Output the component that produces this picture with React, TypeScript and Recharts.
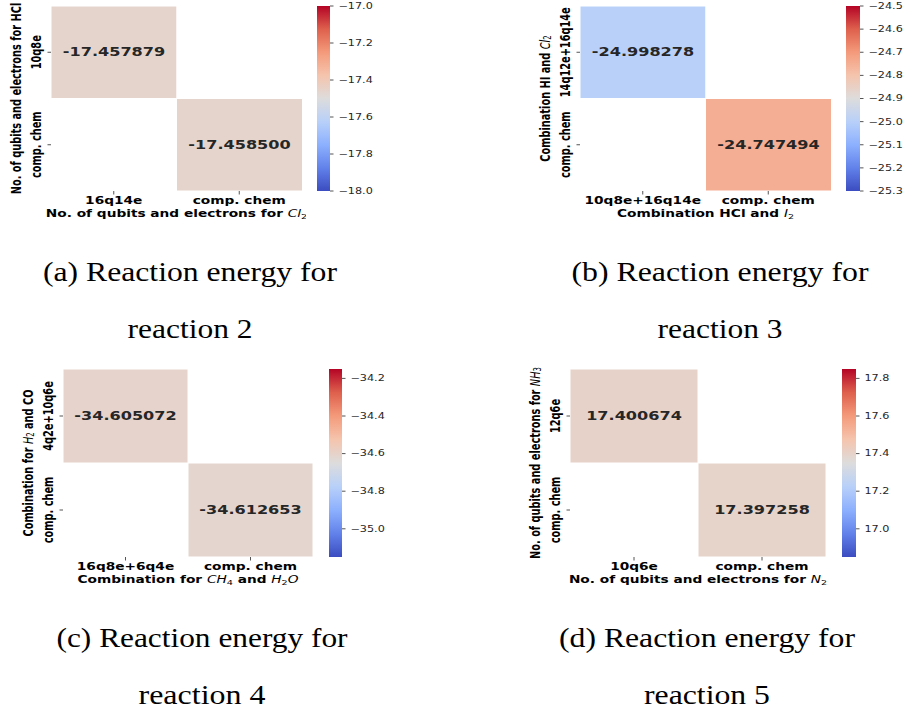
import React from 'react';
import { BarChart, Bar, XAxis, YAxis, Cell, LabelList } from 'recharts';

// reaction 2
const r2Cols = ['16q14e', 'comp. chem'];
const r2Rows = ['10q8e', 'comp. chem'];
const r2Energy = [
  [-17.457879, null],
  [null, -17.4585],
];
const r2Range = [-18.0, -17.0];
const r2Ticks = [-17.0, -17.2, -17.4, -17.6, -17.8, -18.0];

// reaction 3
const r3Cols = ['10q8e+16q14e', 'comp. chem'];
const r3Rows = ['14q12e+16q14e', 'comp. chem'];
const r3Energy = [
  [-24.998278, null],
  [null, -24.747494],
];
const r3Range = [-25.3, -24.5];
const r3Ticks = [-24.5, -24.6, -24.7, -24.8, -24.9, -25.0, -25.1, -25.2, -25.3];

// reaction 4
const r4Cols = ['16q8e+6q4e', 'comp. chem'];
const r4Rows = ['4q2e+10q6e', 'comp. chem'];
const r4Energy = [
  [-34.605072, null],
  [null, -34.612653],
];
const r4Range = [-35.15, -34.15];
const r4Ticks = [-34.2, -34.4, -34.6, -34.8, -35.0];

// reaction 5
const r5Cols = ['10q6e', 'comp. chem'];
const r5Rows = ['12q6e', 'comp. chem'];
const r5Energy = [
  [17.400674, null],
  [null, 17.397258],
];
const r5Range = [16.85, 17.85];
const r5Ticks = [17.8, 17.6, 17.4, 17.2, 17.0];

// the source figure is stretched sideways, so text is too
const SX = 1.4;
const FONT = 'DejaVu Sans';

// matplotlib "coolwarm"
const COOLWARM: [number, string][] = [
  [0, '#3b4cc0'],
  [0.125, '#6282ea'],
  [0.25, '#8db0fe'],
  [0.375, '#b8d0f9'],
  [0.5, '#dddcdc'],
  [0.625, '#f5c4ad'],
  [0.75, '#f49a7b'],
  [0.875, '#de604d'],
  [1, '#b40426'],
];

const hex = (c: string) => [1, 3, 5].map((i) => parseInt(c.slice(i, i + 2), 16));

const coolwarm = (t: number) => {
  t = Math.max(0, Math.min(1, t));
  for (let i = 1; i < COOLWARM.length; i++) {
    const [t1, c1] = COOLWARM[i];
    if (t <= t1) {
      const [t0, c0] = COOLWARM[i - 1];
      const f = (t - t0) / (t1 - t0);
      const a = hex(c0);
      const b = hex(c1);
      const rgb = a.map((v, k) => Math.round(v + (b[k] - v) * f));
      return `rgb(${rgb.join(',')})`;
    }
  }
  return COOLWARM[COOLWARM.length - 1][1];
};

// "$Cl_2$" style titles: plain part bold, math part italic with subscripts
const titleSpans = (title: string, size: number) => {
  const out: React.ReactNode[] = [];
  let shift = 0;
  let key = 0;
  title.split('$').forEach((part, i) => {
    if (!part) return;
    if (i % 2 === 0) {
      out.push(<tspan key={key++} dy={-shift}>{part}</tspan>);
      shift = 0;
      return;
    }
    for (let k = 0; k < part.length; k++) {
      if (part[k] === '_') {
        k++;
        const d = size * 0.22;
        out.push(
          <tspan key={key++} fontWeight="normal" fontSize={size * 0.7} dy={d - shift}>
            {part[k]}
          </tspan>
        );
        shift = d;
      } else {
        out.push(
          <tspan key={key++} fontWeight="normal" fontStyle="italic" dy={-shift}>
            {part[k]}
          </tspan>
        );
        shift = 0;
      }
    }
  });
  return out;
};

const Stretched = ({ x, y, rotate = false, anchor = 'middle', baseline, size, weight = 'bold', fill = '#000', children }: any) => (
  <text
    transform={`translate(${x},${y}) scale(${SX},1)${rotate ? ' rotate(-90)' : ''}`}
    textAnchor={anchor}
    dominantBaseline={baseline}
    fontFamily={FONT}
    fontSize={size}
    fontWeight={weight}
    fill={fill}
  >
    {children}
  </text>
);

const cellLabel = (p: any) => {
  if (p.value == null) return null;
  return (
    <Stretched x={p.x + p.width / 2} y={p.y + p.height / 2} baseline="central" size={11.5} fill="#262626">
      {Number(p.value).toFixed(6)}
    </Stretched>
  );
};

const fmtTick = (v: number) => v.toFixed(1).replace('-', '\u2212');

const HeatPanel = ({ id, cols, rows, energy, range, ticks, xTitle, yTitle, box }: any) => {
  const [vmin, vmax] = range;
  const color = (v: number | null) => (v == null ? '#ffffff' : coolwarm((v - vmin) / (vmax - vmin)));
  const data = cols.map((c: string, j: number) => ({
    col: c,
    lower: 1,
    upper: 1,
    lowerE: energy[rows.length - 1][j],
    upperE: energy[0][j],
  }));
  const H = box.h + 6 + 34;

  const YTick = ({ x, y, payload }: any) => (
    <Stretched x={x - 9} y={y} rotate baseline="central" size={9.8}>
      {rows[rows.length - 0.5 - payload.value]}
    </Stretched>
  );
  const XTick = ({ x, y, payload }: any) => (
    <Stretched x={x} y={y + 7.5} size={9.8}>
      {payload.value}
    </Stretched>
  );
  const CbTick = ({ x, y, payload }: any) => (
    <Stretched x={x + 3} y={y} anchor="start" baseline="central" size={8} weight="normal" fill="#262626">
      {fmtTick(payload.value)}
    </Stretched>
  );
  const xLabel = ({ viewBox }: any) =>
    viewBox ? (
      <Stretched x={viewBox.x + viewBox.width / 2} y={viewBox.y + 25.5} size={9.8}>
        {titleSpans(xTitle, 9.8)}
      </Stretched>
    ) : null;
  const yLabel = ({ viewBox }: any) =>
    viewBox ? (
      <Stretched x={viewBox.x + viewBox.width - 35} y={viewBox.y + viewBox.height / 2} rotate baseline="central" size={9.8}>
        {titleSpans(yTitle, 9.8)}
      </Stretched>
    ) : null;

  return (
    <>
      <div style={{ position: 'absolute', left: box.left - 50, top: box.top - 6 }}>
        <BarChart
          width={box.w + 54}
          height={H}
          data={data}
          margin={{ top: 6, right: 4, left: 0, bottom: 2 }}
          barCategoryGap={0}
          barGap={0}
        >
          <XAxis
            dataKey="col"
            type="category"
            interval={0}
            height={32}
            axisLine={false}
            tickSize={3.5}
            tickMargin={2}
            tickLine={{ stroke: '#555' }}
            tick={XTick}
            label={{ content: xLabel }}
          />
          <YAxis
            type="number"
            domain={[0, 2]}
            ticks={[0.5, 1.5]}
            width={50}
            axisLine={false}
            tickSize={3.5}
            tickLine={{ stroke: '#555' }}
            tick={YTick}
            label={{ content: yLabel }}
          />
          <Bar dataKey="lower" stackId="s" isAnimationActive={false}>
            {data.map((d: any, i: number) => (
              <Cell key={i} fill={color(d.lowerE)} stroke={d.lowerE == null ? 'none' : '#fff'} strokeWidth={1} />
            ))}
            <LabelList dataKey="lowerE" content={cellLabel} />
          </Bar>
          <Bar dataKey="upper" stackId="s" isAnimationActive={false}>
            {data.map((d: any, i: number) => (
              <Cell key={i} fill={color(d.upperE)} stroke={d.upperE == null ? 'none' : '#fff'} strokeWidth={1} />
            ))}
            <LabelList dataKey="upperE" content={cellLabel} />
          </Bar>
        </BarChart>
      </div>
      <div style={{ position: 'absolute', left: box.cbLeft, top: box.top - 6 }}>
        <BarChart
          width={box.cbW + 50}
          height={H}
          data={[{ k: 'cb', span: [vmin, vmax] }]}
          margin={{ top: 6, right: 0, left: 0, bottom: 34 }}
          barCategoryGap={0}
        >
          <defs>
            <linearGradient id={`cw-${id}`} x1="0" y1="1" x2="0" y2="0">
              {COOLWARM.map(([o, c]) => (
                <stop key={o} offset={o} stopColor={c} />
              ))}
            </linearGradient>
          </defs>
          <XAxis dataKey="k" hide />
          <YAxis
            orientation="right"
            type="number"
            domain={[vmin, vmax]}
            ticks={ticks}
            interval={0}
            width={50}
            axisLine={false}
            tickSize={3.5}
            tickLine={{ stroke: '#555' }}
            tick={CbTick}
          />
          <Bar dataKey="span" fill={`url(#cw-${id})`} isAnimationActive={false} />
        </BarChart>
      </div>
    </>
  );
};

const captions = [
  { lines: ['(a) Reaction energy for', 'reaction 2'], cx: 190, y: 281, w: [294, 125] },
  { lines: ['(b) Reaction energy for', 'reaction 3'], cx: 720, y: 281, w: [297, 125] },
  { lines: ['(c) Reaction energy for', 'reaction 4'], cx: 202, y: 647, w: [291, 127] },
  { lines: ['(d) Reaction energy for', 'reaction 5'], cx: 707, y: 647, w: [296, 126] },
];

export default function App() {
  return (
    <div style={{ position: 'absolute', left: 0, top: 0, width: 903, height: 712, background: '#fff', overflow: 'hidden' }}>
      <HeatPanel
        id="a"
        cols={r2Cols}
        rows={r2Rows}
        energy={r2Energy}
        range={r2Range}
        ticks={r2Ticks}
        xTitle="No. of qubits and electrons for $Cl_2$"
        yTitle="No. of qubits and electrons for HCl"
        box={{ left: 51, top: 6, w: 251, h: 185, cbLeft: 317, cbW: 13 }}
      />
      <HeatPanel
        id="b"
        cols={r3Cols}
        rows={r3Rows}
        energy={r3Energy}
        range={r3Range}
        ticks={r3Ticks}
        xTitle="Combination HCl and $I_2$"
        yTitle="Combination HI and $Cl_2$"
        box={{ left: 580, top: 6, w: 251, h: 185, cbLeft: 846, cbW: 14 }}
      />
      <HeatPanel
        id="c"
        cols={r4Cols}
        rows={r4Rows}
        energy={r4Energy}
        range={r4Range}
        ticks={r4Ticks}
        xTitle="Combination for $CH_4$ and $H_2O$"
        yTitle="Combination for $H_2$ and CO"
        box={{ left: 63, top: 369, w: 250, h: 188, cbLeft: 329, cbW: 13 }}
      />
      <HeatPanel
        id="d"
        cols={r5Cols}
        rows={r5Rows}
        energy={r5Energy}
        range={r5Range}
        ticks={r5Ticks}
        xTitle="No. of qubits and electrons for $N_2$"
        yTitle="No. of qubits and electrons for $NH_3$"
        box={{ left: 570, top: 369, w: 256, h: 188, cbLeft: 842, cbW: 14 }}
      />
      <svg width={903} height={712} style={{ position: 'absolute', left: 0, top: 0, pointerEvents: 'none' }}>
        {captions.map((c) =>
          c.lines.map((t, i) => (
            <text
              key={c.cx + t}
              x={c.cx}
              y={c.y + i * 57}
              textAnchor="middle"
              fontFamily="Liberation Serif"
              fontSize={27}
              fill="#000"
              textLength={c.w[i]}
              lengthAdjust="spacingAndGlyphs"
            >
              {t}
            </text>
          ))
        )}
      </svg>
    </div>
  );
}
